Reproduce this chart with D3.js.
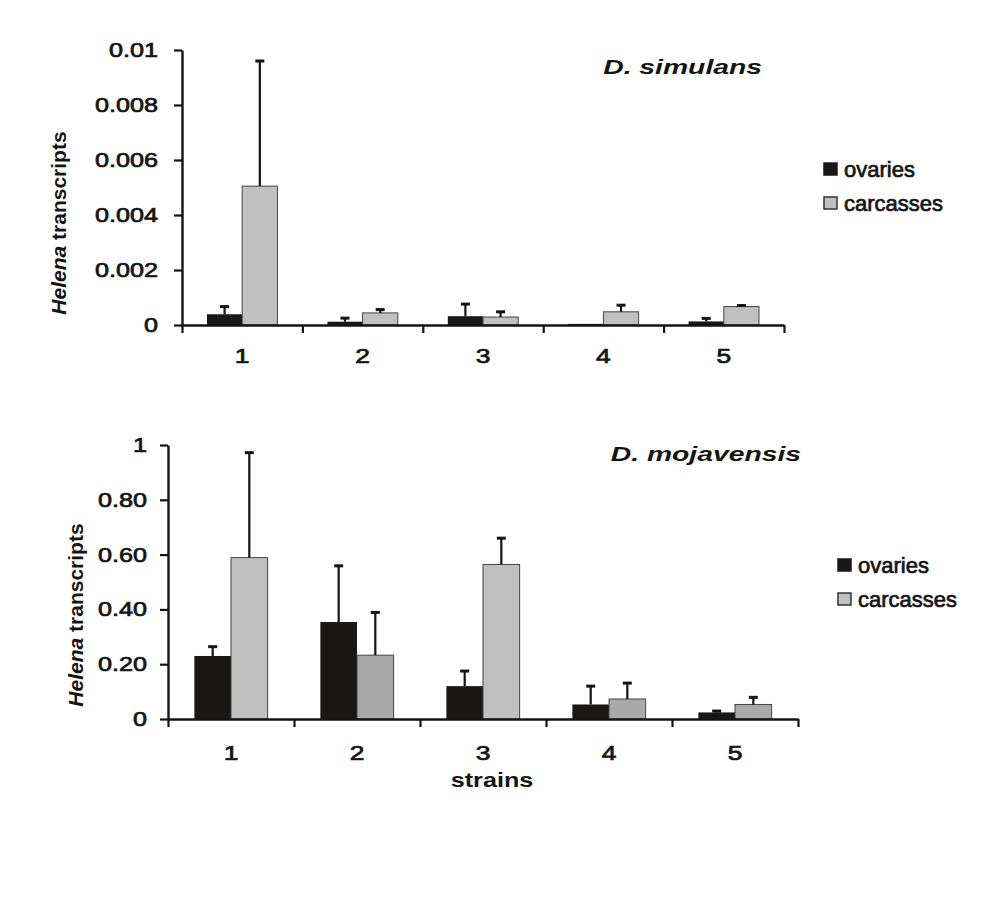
<!DOCTYPE html>
<html>
<head>
<meta charset="utf-8">
<script src="https://cdn.jsdelivr.net/npm/d3@7"></script>
<style>
  html, body { margin: 0; padding: 0; background: #ffffff; }
  svg { display: block; font-family: "Liberation Sans", Arial, sans-serif; }
</style>
</head>
<body>
<svg id="chart" width="1000" height="918"></svg>
<script>
// ---------------- data ----------------
const categories = ["1", "2", "3", "4", "5"];
const seriesNames = ["ovaries", "carcasses"];

// D. simulans (means and upper end of error bar)
const simOvaries       = [0.00039, 0.00012, 0.00032, 0.00004, 0.00013];
const simOvariesErr    = [0.00067, 0.00025, 0.00076, 0.00004, 0.00024];
const simCarcasses     = [0.00505, 0.00044, 0.00029, 0.00048, 0.00067];
const simCarcassesErr  = [0.00960, 0.00056, 0.00048, 0.00072, 0.00071];
const simTicks         = [0, 0.002, 0.004, 0.006, 0.008, 0.01];
const simTickLabels    = ["0", "0.002", "0.004", "0.006", "0.008", "0.01"];

// D. mojavensis
const mojOvaries       = [0.230, 0.354, 0.120, 0.053, 0.024];
const mojOvariesErr    = [0.264, 0.559, 0.175, 0.120, 0.029];
const mojCarcasses     = [0.589, 0.233, 0.564, 0.073, 0.053];
const mojCarcassesErr  = [0.972, 0.389, 0.660, 0.131, 0.079];
const mojTicks         = [0, 0.2, 0.4, 0.6, 0.8, 1];
const mojTickLabels    = ["0", "0.20", "0.40", "0.60", "0.80", "1"];

const titles = ["D. simulans", "D. mojavensis"];
const xTitle = "strains";

// ---------------- styles ----------------
const BLACK = "#1c1717";
const LIGHT = "#c0c0c0";
const DARK_GRAY = "#a9a9a9";
const INK = "#141414";
const SX = 1.26; // horizontal text stretch seen in the reference

const svg = d3.select("#chart");

function thicken(sel, w) {
  return sel.attr("stroke", INK).attr("stroke-width", w).attr("paint-order", "stroke");
}

function drawPanel(cfg) {
  const g = svg.append("g");
  const x = d3.scaleBand().domain(categories).range([cfg.x0, cfg.x1]).paddingInner(0).paddingOuter(0);
  const xs = d3.scaleBand().domain(seriesNames).range([0, x.bandwidth()]).paddingInner(0).paddingOuter(cfg.groupPad);
  const y = d3.scaleLinear().domain([0, cfg.yMax]).range([cfg.yBase, cfg.yTop]);

  const rows = categories.map((c, i) => ({
    cat: c, i,
    vals: [
      { s: "ovaries", v: cfg.ov[i], e: cfg.ovErr[i], fill: BLACK, stroke: "none" },
      { s: "carcasses", v: cfg.car[i], e: cfg.carErr[i], fill: cfg.carFill(i), stroke: "#444" }
    ]
  }));

  // bars
  const groups = g.selectAll(".grp").data(rows).join("g")
    .attr("transform", d => `translate(${x(d.cat)},0)`);
  groups.selectAll("rect").data(d => d.vals).join("rect")
    .attr("x", d => xs(d.s))
    .attr("y", d => y(d.v))
    .attr("width", xs.bandwidth())
    .attr("height", d => y(0) - y(d.v))
    .attr("fill", d => d.fill)
    .attr("stroke", d => d.stroke)
    .attr("stroke-width", 1);

  // error bars (upper only)
  const eb = groups.selectAll(".eb").data(d => d.vals.filter(v => v.e > v.v)).join("g");
  eb.append("line")
    .attr("x1", d => xs(d.s) + xs.bandwidth() / 2)
    .attr("x2", d => xs(d.s) + xs.bandwidth() / 2)
    .attr("y1", d => y(d.v))
    .attr("y2", d => y(d.e))
    .attr("stroke", INK).attr("stroke-width", 2.2);
  eb.append("line")
    .attr("x1", d => xs(d.s) + xs.bandwidth() / 2 - 4.5)
    .attr("x2", d => xs(d.s) + xs.bandwidth() / 2 + 4.5)
    .attr("y1", d => y(d.e))
    .attr("y2", d => y(d.e))
    .attr("stroke", INK).attr("stroke-width", 3);

  // y axis
  const yAxis = g.append("g").attr("transform", `translate(${cfg.x0},0)`)
    .call(d3.axisLeft(y).tickValues(cfg.ticks).tickFormat((d, i) => cfg.tickLabels[i]).tickSize(8).tickSizeOuter(0));
  yAxis.select(".domain").attr("stroke", INK).attr("stroke-width", 2.4);
  yAxis.selectAll(".tick line").attr("stroke", INK).attr("stroke-width", 2.2);
  thicken(yAxis.selectAll(".tick text")
    .attr("x", -cfg.yLabelGap / SX)
    .attr("transform", `scale(${SX},1)`)
    .attr("font-size", 20).attr("fill", INK), 0.7);

  // x axis: boundary ticks
  const xb = d3.scaleLinear().domain([0, categories.length]).range([cfg.x0, cfg.x1]);
  const xAxisTicks = g.append("g").attr("transform", `translate(0,${cfg.yBase})`)
    .call(d3.axisBottom(xb).ticks(categories.length).tickFormat("").tickSize(8).tickSizeOuter(0));
  xAxisTicks.select(".domain").attr("stroke", INK).attr("stroke-width", 2.4);
  xAxisTicks.selectAll(".tick line").attr("stroke", INK).attr("stroke-width", 2.2);

  // x axis: category labels
  const xAxisLab = g.append("g").attr("transform", `translate(0,${cfg.yBase})`)
    .call(d3.axisBottom(x).tickSize(0).tickPadding(cfg.xLabelGap));
  xAxisLab.select(".domain").remove();
  thicken(xAxisLab.selectAll(".tick text")
    .attr("transform", `scale(${SX},1)`)
    .attr("font-size", 21).attr("fill", INK), 0.7);

  // y axis title: italic "Helena" + " transcripts"
  const yt = g.append("text")
    .attr("transform", `translate(${cfg.yTitleX},${cfg.yTitleY}) rotate(-90)`)
    .attr("text-anchor", "middle")
    .attr("font-size", 21).attr("font-weight", "bold").attr("fill", INK);
  yt.append("tspan").attr("font-style", "italic").text("Helena");
  yt.append("tspan").text(" transcripts");

  // panel title
  g.append("text")
    .attr("transform", `translate(${cfg.titleX},${cfg.titleY}) scale(${SX * 1.07},1)`)
    .attr("text-anchor", "end")
    .attr("font-size", 21).attr("font-weight", "bold").attr("font-style", "italic")
    .attr("fill", INK)
    .text(cfg.title);

  // legend
  const lg = g.append("g").attr("transform", `translate(${cfg.legX},${cfg.legY})`);
  const legItems = [
    { name: seriesNames[0], fill: BLACK, stroke: BLACK },
    { name: seriesNames[1], fill: LIGHT, stroke: "#333" }
  ];
  const li = lg.selectAll("g").data(legItems).join("g")
    .attr("transform", (d, i) => `translate(0,${i * cfg.legStep})`);
  li.append("rect").attr("x", 0).attr("y", -12).attr("width", 13).attr("height", 12)
    .attr("fill", d => d.fill).attr("stroke", d => d.stroke).attr("stroke-width", 1.5);
  thicken(li.append("text").attr("x", 20).attr("y", 2)
    .attr("font-size", 22).attr("fill", INK)
    .text(d => d.name), 0.7);

  return { x, y };
}

drawPanel({
  x0: 182, x1: 784, yBase: 325, yTop: 50, yMax: 0.01,
  groupPad: 0.71,
  ov: simOvaries, ovErr: simOvariesErr, car: simCarcasses, carErr: simCarcassesErr,
  carFill: () => LIGHT,
  ticks: simTicks, tickLabels: simTickLabels,
  yLabelGap: 24, xLabelGap: 23,
  yTitleX: 66, yTitleY: 223,
  title: titles[0], titleX: 762, titleY: 74,
  legX: 824, legY: 175, legStep: 34
});

drawPanel({
  x0: 168, x1: 798, yBase: 719, yTop: 445, yMax: 1,
  groupPad: 0.72,
  ov: mojOvaries, ovErr: mojOvariesErr, car: mojCarcasses, carErr: mojCarcassesErr,
  carFill: i => (i === 1 || i === 3 || i === 4) ? DARK_GRAY : LIGHT,
  ticks: mojTicks, tickLabels: mojTickLabels,
  yLabelGap: 21, xLabelGap: 26,
  yTitleX: 83, yTitleY: 615,
  title: titles[1], titleX: 801, titleY: 461,
  legX: 838, legY: 571, legStep: 34
});

// x axis title
svg.append("text")
  .attr("transform", `translate(492,787) scale(${SX},1)`)
  .attr("text-anchor", "middle")
  .attr("font-size", 20).attr("font-weight", "bold").attr("fill", INK)
  .text(xTitle);
</script>
</body>
</html>
